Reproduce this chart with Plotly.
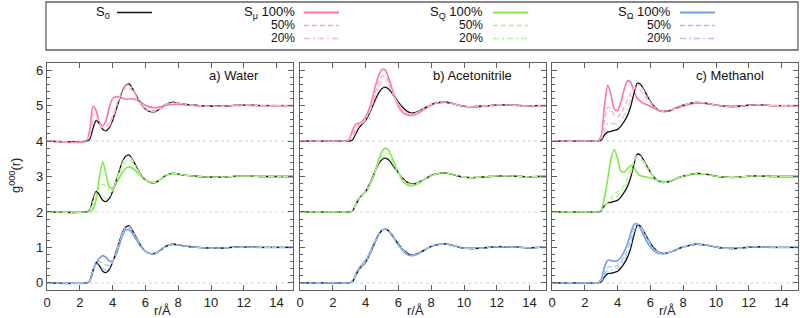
import plotly.graph_objects as go

# ---------------- data ----------------
r = [0, 2.4, 2.6, 2.8, 3.0, 3.2, 3.4, 3.6, 3.8, 4.0, 4.2, 4.4, 4.6, 4.8, 5.0,
     5.2, 5.4, 5.6, 5.8, 6.0, 6.2, 6.4, 6.6, 6.8, 7.0, 7.2, 7.4, 7.6, 7.8, 8.0,
     8.4, 8.8, 9.2, 9.6, 10.0, 10.5, 11.0, 11.5, 12.0, 12.5, 13.0, 13.5, 14.0, 14.5, 15.0]

# Water
water_S0 = [0, 0, 0.05, 0.35, 0.58, 0.48, 0.33, 0.29, 0.38, 0.58, 0.86, 1.15, 1.42, 1.57, 1.61,
            1.49, 1.32, 1.15, 1.0, 0.9, 0.84, 0.82, 0.83, 0.88, 0.95, 1.02, 1.06, 1.09, 1.09, 1.07,
            1.04, 1.02, 1.0, 0.99, 0.98, 0.98, 0.99, 1.01, 1.01, 1.01, 1.0, 1.0, 1.0, 1.0, 1.0]
water_Om100 = [0, 0, 0.05, 0.33, 0.55, 0.70, 0.77, 0.72, 0.62, 0.62, 0.78, 1.05, 1.33, 1.49, 1.50,
               1.40, 1.25, 1.10, 0.98, 0.89, 0.84, 0.82, 0.84, 0.89, 0.96, 1.02, 1.06, 1.08, 1.08, 1.07,
               1.04, 1.02, 1.0, 0.99, 0.98, 0.98, 0.99, 1.01, 1.01, 1.01, 1.0, 1.0, 1.0, 1.0, 1.0]
water_Om50 = [0, 0, 0.05, 0.34, 0.57, 0.60, 0.55, 0.50, 0.50, 0.60, 0.82, 1.10, 1.38, 1.54, 1.56,
              1.45, 1.29, 1.12, 0.99, 0.89, 0.84, 0.82, 0.83, 0.88, 0.95, 1.02, 1.06, 1.08, 1.08, 1.07,
              1.04, 1.02, 1.0, 0.99, 0.98, 0.98, 0.99, 1.01, 1.01, 1.01, 1.0, 1.0, 1.0, 1.0, 1.0]
water_Om20 = [0, 0, 0.05, 0.35, 0.58, 0.52, 0.40, 0.37, 0.43, 0.59, 0.85, 1.13, 1.40, 1.56, 1.59,
              1.48, 1.31, 1.14, 1.0, 0.9, 0.84, 0.82, 0.83, 0.88, 0.95, 1.02, 1.06, 1.09, 1.09, 1.07,
              1.04, 1.02, 1.0, 0.99, 0.98, 0.98, 0.99, 1.01, 1.01, 1.01, 1.0, 1.0, 1.0, 1.0, 1.0]
water_Q100 = [0, 0, 0, 0.08, 0.35, 1.0, 1.42, 1.05, 0.70, 0.68, 0.78, 0.95, 1.12, 1.23, 1.27,
              1.24, 1.16, 1.07, 0.98, 0.91, 0.86, 0.84, 0.84, 0.88, 0.95, 1.01, 1.05, 1.07, 1.07, 1.06,
              1.04, 1.02, 1.0, 0.99, 0.98, 0.98, 0.99, 1.0, 1.01, 1.01, 1.0, 1.0, 1.0, 1.0, 1.0]
water_Q50 = [0, 0, 0.02, 0.15, 0.45, 0.70, 0.78, 0.72, 0.62, 0.66, 0.82, 1.05, 1.28, 1.42, 1.46,
             1.40, 1.27, 1.12, 0.99, 0.90, 0.85, 0.83, 0.84, 0.88, 0.95, 1.02, 1.06, 1.08, 1.08, 1.07,
             1.04, 1.02, 1.0, 0.99, 0.98, 0.98, 0.99, 1.01, 1.01, 1.01, 1.0, 1.0, 1.0, 1.0, 1.0]
water_Q20 = [0, 0, 0.04, 0.30, 0.55, 0.55, 0.45, 0.38, 0.43, 0.60, 0.86, 1.13, 1.38, 1.53, 1.57,
             1.47, 1.31, 1.14, 1.0, 0.9, 0.84, 0.82, 0.83, 0.88, 0.95, 1.02, 1.06, 1.09, 1.09, 1.07,
             1.04, 1.02, 1.0, 0.99, 0.98, 0.98, 0.99, 1.01, 1.01, 1.01, 1.0, 1.0, 1.0, 1.0, 1.0]
water_mu100 = [0, 0, 0.3, 0.98, 0.85, 0.52, 0.43, 0.58, 0.95, 1.2, 1.25, 1.24, 1.21, 1.18, 1.19,
               1.19, 1.17, 1.13, 1.07, 1.01, 0.97, 0.95, 0.94, 0.95, 0.97, 1.0, 1.02, 1.03, 1.03, 1.03,
               1.02, 1.01, 1.0, 0.99, 0.99, 0.99, 0.99, 1.0, 1.01, 1.0, 1.0, 1.0, 1.0, 1.0, 1.0]
water_mu50 = [0, 0, 0.2, 0.75, 0.72, 0.5, 0.38, 0.4, 0.52, 0.72, 0.98, 1.22, 1.42, 1.5, 1.5,
              1.42, 1.28, 1.13, 1.01, 0.93, 0.88, 0.86, 0.86, 0.9, 0.96, 1.02, 1.05, 1.07, 1.07, 1.06,
              1.04, 1.02, 1.0, 0.99, 0.98, 0.98, 0.99, 1.01, 1.01, 1.01, 1.0, 1.0, 1.0, 1.0, 1.0]
water_mu20 = [0, 0, 0.12, 0.55, 0.63, 0.48, 0.33, 0.32, 0.42, 0.62, 0.9, 1.18, 1.43, 1.56, 1.58,
              1.48, 1.31, 1.14, 1.0, 0.9, 0.85, 0.83, 0.84, 0.88, 0.95, 1.02, 1.06, 1.08, 1.08, 1.07,
              1.04, 1.02, 1.0, 0.99, 0.98, 0.98, 0.99, 1.01, 1.01, 1.01, 1.0, 1.0, 1.0, 1.0, 1.0]

# Acetonitrile
acn_S0 = [0, 0, 0, 0, 0, 0.03, 0.2, 0.38, 0.48, 0.58, 0.75, 0.95, 1.17, 1.36, 1.48,
          1.52, 1.47, 1.36, 1.23, 1.1, 0.98, 0.89, 0.82, 0.79, 0.8, 0.83, 0.88, 0.93, 0.98, 1.03,
          1.08, 1.1, 1.07, 1.02, 0.98, 0.97, 0.98, 1.0, 1.02, 1.02, 1.01, 1.0, 0.99, 1.0, 1.0]
acn_Om100 = [0, 0, 0, 0, 0, 0.05, 0.25, 0.42, 0.52, 0.63, 0.8, 1.0, 1.2, 1.38, 1.49,
             1.52, 1.46, 1.34, 1.2, 1.06, 0.94, 0.85, 0.79, 0.77, 0.78, 0.82, 0.87, 0.93, 0.98, 1.03,
             1.08, 1.1, 1.07, 1.02, 0.98, 0.97, 0.98, 1.0, 1.02, 1.02, 1.01, 1.0, 0.99, 1.0, 1.0]
acn_Om50 = [0, 0, 0, 0, 0, 0.04, 0.23, 0.40, 0.50, 0.61, 0.78, 0.98, 1.19, 1.37, 1.49,
            1.52, 1.47, 1.35, 1.21, 1.08, 0.96, 0.87, 0.80, 0.78, 0.79, 0.82, 0.87, 0.93, 0.98, 1.03,
            1.08, 1.1, 1.07, 1.02, 0.98, 0.97, 0.98, 1.0, 1.02, 1.02, 1.01, 1.0, 0.99, 1.0, 1.0]
acn_Om20 = [0, 0, 0, 0, 0, 0.03, 0.21, 0.39, 0.49, 0.59, 0.76, 0.96, 1.18, 1.36, 1.48,
            1.52, 1.47, 1.36, 1.22, 1.09, 0.97, 0.88, 0.81, 0.78, 0.79, 0.83, 0.88, 0.93, 0.98, 1.03,
            1.08, 1.1, 1.07, 1.02, 0.98, 0.97, 0.98, 1.0, 1.02, 1.02, 1.01, 1.0, 0.99, 1.0, 1.0]
acn_Q100 = [0, 0, 0, 0, 0, 0.03, 0.2, 0.38, 0.48, 0.56, 0.7, 0.9, 1.18, 1.48, 1.7,
            1.8, 1.74, 1.55, 1.32, 1.1, 0.93, 0.81, 0.75, 0.74, 0.76, 0.8, 0.86, 0.92, 0.97, 1.02,
            1.07, 1.09, 1.07, 1.02, 0.98, 0.96, 0.97, 0.99, 1.01, 1.02, 1.01, 1.0, 0.99, 1.0, 1.0]
acn_Q50 = [0, 0, 0, 0, 0, 0.03, 0.2, 0.38, 0.48, 0.57, 0.72, 0.92, 1.17, 1.42, 1.6,
           1.67, 1.61, 1.46, 1.28, 1.1, 0.95, 0.85, 0.78, 0.76, 0.78, 0.82, 0.87, 0.93, 0.98, 1.02,
           1.08, 1.1, 1.07, 1.02, 0.98, 0.97, 0.98, 1.0, 1.02, 1.02, 1.01, 1.0, 0.99, 1.0, 1.0]
acn_Q20 = [0, 0, 0, 0, 0, 0.03, 0.2, 0.38, 0.48, 0.58, 0.74, 0.94, 1.17, 1.39, 1.53,
           1.58, 1.53, 1.41, 1.26, 1.1, 0.97, 0.87, 0.8, 0.78, 0.79, 0.83, 0.88, 0.93, 0.98, 1.03,
           1.08, 1.1, 1.07, 1.02, 0.98, 0.97, 0.98, 1.0, 1.02, 1.02, 1.01, 1.0, 0.99, 1.0, 1.0]
acn_mu100 = [0, 0, 0, 0, 0.05, 0.3, 0.47, 0.5, 0.55, 0.68, 0.88, 1.18, 1.55, 1.85, 2.02,
             2.0, 1.78, 1.5, 1.2, 0.98, 0.84, 0.76, 0.73, 0.72, 0.74, 0.78, 0.84, 0.9, 0.96, 1.01,
             1.07, 1.09, 1.07, 1.02, 0.98, 0.96, 0.97, 0.99, 1.01, 1.02, 1.01, 1.0, 0.99, 1.0, 1.0]
acn_mu50 = [0, 0, 0, 0, 0.03, 0.18, 0.36, 0.45, 0.52, 0.63, 0.82, 1.07, 1.38, 1.66, 1.83,
            1.84, 1.66, 1.43, 1.2, 1.02, 0.89, 0.8, 0.76, 0.75, 0.77, 0.81, 0.86, 0.92, 0.97, 1.02,
            1.08, 1.1, 1.07, 1.02, 0.98, 0.97, 0.98, 1.0, 1.02, 1.02, 1.01, 1.0, 0.99, 1.0, 1.0]
acn_mu20 = [0, 0, 0, 0, 0.01, 0.1, 0.28, 0.42, 0.5, 0.6, 0.78, 1.0, 1.27, 1.52, 1.67,
            1.7, 1.58, 1.4, 1.21, 1.05, 0.93, 0.84, 0.79, 0.77, 0.78, 0.82, 0.87, 0.93, 0.98, 1.03,
            1.08, 1.1, 1.07, 1.02, 0.98, 0.97, 0.98, 1.0, 1.02, 1.02, 1.01, 1.0, 0.99, 1.0, 1.0]

# Methanol
meoh_S0 = [0, 0, 0, 0, 0.03, 0.17, 0.26, 0.27, 0.3, 0.33, 0.42, 0.55, 0.72, 0.98, 1.35,
           1.63, 1.6, 1.45, 1.28, 1.12, 0.99, 0.9, 0.85, 0.83, 0.84, 0.86, 0.9, 0.94, 0.98, 1.01,
           1.06, 1.09, 1.08, 1.05, 1.01, 0.98, 0.97, 0.98, 1.01, 1.02, 1.01, 1.0, 1.0, 1.0, 1.0]
meoh_Om100 = [0, 0, 0, 0, 0.1, 0.45, 0.64, 0.63, 0.61, 0.63, 0.72, 0.88, 1.1, 1.4, 1.65,
              1.67, 1.52, 1.33, 1.15, 1.01, 0.91, 0.85, 0.82, 0.82, 0.84, 0.87, 0.9, 0.94, 0.98, 1.01,
              1.06, 1.09, 1.08, 1.05, 1.01, 0.98, 0.97, 0.98, 1.01, 1.02, 1.01, 1.0, 1.0, 1.0, 1.0]
meoh_Om50 = [0, 0, 0, 0, 0.07, 0.32, 0.45, 0.45, 0.45, 0.5, 0.6, 0.74, 0.94, 1.22, 1.55,
             1.68, 1.58, 1.4, 1.22, 1.07, 0.95, 0.87, 0.83, 0.82, 0.84, 0.87, 0.9, 0.94, 0.98, 1.01,
             1.06, 1.09, 1.08, 1.05, 1.01, 0.98, 0.97, 0.98, 1.01, 1.02, 1.01, 1.0, 1.0, 1.0, 1.0]
meoh_Om20 = [0, 0, 0, 0, 0.05, 0.24, 0.35, 0.36, 0.38, 0.42, 0.52, 0.65, 0.83, 1.1, 1.45,
             1.66, 1.6, 1.43, 1.26, 1.1, 0.97, 0.89, 0.84, 0.83, 0.84, 0.86, 0.9, 0.94, 0.98, 1.01,
             1.06, 1.09, 1.08, 1.05, 1.01, 0.98, 0.97, 0.98, 1.01, 1.02, 1.01, 1.0, 1.0, 1.0, 1.0]
meoh_Q100 = [0, 0, 0, 0, 0.05, 0.4, 0.95, 1.5, 1.76, 1.5, 1.15, 1.13, 1.22, 1.31, 1.24,
             1.1, 1.02, 1.0, 0.98, 0.96, 0.93, 0.9, 0.87, 0.86, 0.86, 0.88, 0.91, 0.94, 0.97, 1.0,
             1.04, 1.07, 1.07, 1.04, 1.01, 0.98, 0.98, 0.99, 1.01, 1.02, 1.01, 1.0, 1.0, 1.0, 1.0]
meoh_Q50 = [0, 0, 0, 0, 0.04, 0.15, 0.3, 0.4, 0.5, 0.58, 0.65, 0.75, 0.95, 1.2, 1.45,
            1.55, 1.5, 1.38, 1.23, 1.09, 0.97, 0.9, 0.86, 0.84, 0.85, 0.87, 0.9, 0.94, 0.98, 1.01,
            1.06, 1.09, 1.08, 1.05, 1.01, 0.98, 0.97, 0.98, 1.01, 1.02, 1.01, 1.0, 1.0, 1.0, 1.0]
meoh_Q20 = [0, 0, 0, 0, 0.03, 0.17, 0.28, 0.33, 0.38, 0.45, 0.55, 0.66, 0.82, 1.08, 1.4,
            1.6, 1.57, 1.43, 1.27, 1.11, 0.98, 0.9, 0.85, 0.83, 0.84, 0.86, 0.9, 0.94, 0.98, 1.01,
            1.06, 1.09, 1.08, 1.05, 1.01, 0.98, 0.97, 0.98, 1.01, 1.02, 1.01, 1.0, 1.0, 1.0, 1.0]
meoh_mu100 = [0, 0, 0, 0, 0.15, 1.0, 1.57, 1.3, 0.9, 0.86, 1.1, 1.45, 1.7, 1.65, 1.4,
              1.2, 1.12, 1.06, 1.02, 0.98, 0.93, 0.88, 0.85, 0.84, 0.85, 0.87, 0.9, 0.93, 0.96, 0.99,
              1.04, 1.07, 1.07, 1.04, 1.01, 0.98, 0.98, 0.99, 1.01, 1.02, 1.01, 1.0, 1.0, 1.0, 1.0]
meoh_mu50 = [0, 0, 0, 0, 0.08, 0.55, 0.95, 0.9, 0.72, 0.68, 0.78, 0.95, 1.15, 1.35, 1.48,
             1.5, 1.42, 1.3, 1.17, 1.06, 0.96, 0.89, 0.85, 0.84, 0.85, 0.87, 0.9, 0.94, 0.98, 1.01,
             1.06, 1.09, 1.08, 1.05, 1.01, 0.98, 0.97, 0.98, 1.01, 1.02, 1.01, 1.0, 1.0, 1.0, 1.0]
meoh_mu20 = [0, 0, 0, 0, 0.05, 0.3, 0.5, 0.5, 0.48, 0.5, 0.58, 0.72, 0.92, 1.18, 1.45,
             1.58, 1.55, 1.42, 1.26, 1.1, 0.98, 0.9, 0.85, 0.83, 0.84, 0.86, 0.9, 0.94, 0.98, 1.01,
             1.06, 1.09, 1.08, 1.05, 1.01, 0.98, 0.97, 0.98, 1.01, 1.02, 1.01, 1.0, 1.0, 1.0, 1.0]

panel_titles = ["a) Water", "b) Acetonitrile", "c) Methanol"]
x_ticks = [0, 2, 4, 6, 8, 10, 12, 14]
y_ticks = [0, 1, 2, 3, 4, 5, 6]
baselines = [0, 2, 4]
levels = ["100%", "50%", "20%"]

panels = [
    dict(S0=water_S0, Om=[water_Om100, water_Om50, water_Om20],
         Q=[water_Q100, water_Q50, water_Q20], mu=[water_mu100, water_mu50, water_mu20]),
    dict(S0=acn_S0, Om=[acn_Om100, acn_Om50, acn_Om20],
         Q=[acn_Q100, acn_Q50, acn_Q20], mu=[acn_mu100, acn_mu50, acn_mu20]),
    dict(S0=meoh_S0, Om=[meoh_Om100, meoh_Om50, meoh_Om20],
         Q=[meoh_Q100, meoh_Q50, meoh_Q20], mu=[meoh_mu100, meoh_mu50, meoh_mu20]),
]

# ---------------- style ----------------
W, H = 800, 318
ML, MR, MT, MB = 47, 2, 63, 28
PW, PH = W - ML - MR, H - MT - MB
FONT = "Liberation Sans, Arial, Helvetica, sans-serif"
FRAME = "#606060"

def px(x):
    return (x - ML) / PW

def py(y):
    return (H - MB - y) / PH

series = [  # key, offset, colours for 100/50/20
    ("Om", 0, ["#6c9ff0", "#9dc0f5", "#a9c8f6"]),
    ("Q", 2, ["#7ced45", "#aef38a", "#b9f59a"]),
    ("mu", 4, ["#ff73ab", "#ffa6c8", "#ffb3d0"]),
]
dashes = ["solid", "5px,3px", "6px,3px,2px,3px"]
widths = [1.6, 1.2, 1.2]

domains = [[px(47), px(293)], [px(300), px(546)], [px(552), px(798)]]

fig = go.Figure()
for i, p in enumerate(panels):
    xa = "x" if i == 0 else f"x{i+1}"
    ya = "y" if i == 0 else f"y{i+1}"
    for key, off, cols in series:
        fig.add_trace(go.Scatter(x=r, y=[v + off for v in p[key][0]], xaxis=xa, yaxis=ya,
                                 mode="lines", line=dict(color=cols[0], width=widths[0], shape="spline", smoothing=0.7),
                                 showlegend=False, hoverinfo="skip"))
    for key, off, cols in series:
        fig.add_trace(go.Scatter(x=r, y=[v + off for v in p["S0"]], xaxis=xa, yaxis=ya,
                                 mode="lines", line=dict(color="#111111", width=1.3, shape="spline", smoothing=0.7),
                                 showlegend=False, hoverinfo="skip"))
    for key, off, cols in series:
        for k in (1, 2):
            fig.add_trace(go.Scatter(x=r, y=[v + off for v in p[key][k]], xaxis=xa, yaxis=ya,
                                     mode="lines", line=dict(color=cols[k], width=widths[k], dash=dashes[k],
                                                             shape="spline", smoothing=0.7),
                                     showlegend=False, hoverinfo="skip"))

axis_common = dict(showline=True, linecolor=FRAME, linewidth=1.3, mirror="ticks", ticks="inside",
                   tickcolor=FRAME, showgrid=False, zeroline=False,
                   tickfont=dict(family=FONT, size=13, color="#222222"))
layout = dict(width=W, height=H, margin=dict(l=ML, r=MR, t=MT, b=MB),
              paper_bgcolor="white", plot_bgcolor="white", showlegend=False,
              font=dict(family=FONT, size=13, color="#222222"))
for i in range(3):
    sx = "" if i == 0 else str(i + 1)
    layout["xaxis" + sx] = dict(axis_common, domain=domains[i], range=[0, 15], tickvals=x_ticks,
                                ticklen=5, anchor="y" + sx)
    layout["yaxis" + sx] = dict(axis_common, domain=[0, 1], range=[-0.2, 6.2], tickvals=y_ticks,
                                ticklen=5, anchor="x" + sx, showticklabels=(i == 0),
                                minor=dict(ticks="inside", dtick=0.2, ticklen=2.5, tickcolor=FRAME))
fig.update_layout(**layout)

shapes = []
annotations = []
for i in range(3):
    sx = "" if i == 0 else str(i + 1)
    for b in baselines:
        shapes.append(dict(type="line", xref=f"x{sx} domain", yref="y" + sx, x0=0, x1=1, y0=b, y1=b,
                           line=dict(color="#c9d3e3", width=1, dash="dot"), layer="below"))
    annotations.append(dict(xref="x" + sx, yref="y" + sx, x=13.05, y=5.86, text=panel_titles[i],
                            xanchor="right", yanchor="middle", showarrow=False,
                            font=dict(family=FONT, size=13, color="#111111")))
    annotations.append(dict(xref=f"x{sx} domain", yref="paper", x=0.47, y=py(310), text="r/Å",
                            xanchor="center", yanchor="middle", showarrow=False,
                            font=dict(family=FONT, size=13, color="#222222")))

annotations.append(dict(xref="paper", yref="paper", x=px(15), y=py(176), text="g<sup>000</sup>(r)",
                        textangle=-90, xanchor="center", yanchor="middle", showarrow=False,
                        font=dict(family=FONT, size=13, color="#222222")))

# legend box
LEG_FS = 12
shapes.append(dict(type="rect", xref="paper", yref="paper", x0=px(46), x1=px(798), y0=py(50), y1=py(2),
                   line=dict(color=FRAME, width=1.3), fillcolor="rgba(0,0,0,0)"))
rows_y = [12.5, 25.5, 38.5]
annotations.append(dict(xref="paper", yref="paper", x=px(111), y=py(rows_y[0]), text="S<sub>0</sub>",
                        xanchor="right", yanchor="middle", showarrow=False, borderpad=0,
                        font=dict(family=FONT, size=LEG_FS + 1, color="#111111")))
shapes.append(dict(type="line", xref="paper", yref="paper", x0=px(117), x1=px(152),
                   y0=py(rows_y[0]), y1=py(rows_y[0]), line=dict(color="#111111", width=1.5)))
leg_groups = [("mu", "S<sub>μ</sub>", 296, 304), ("Q", "S<sub>Q</sub>", 484, 493), ("Om", "S<sub>Ω</sub>", 672, 680)]
col_map = {k: c for k, _, c in series}
for key, lab, tx, lx in leg_groups:
    for k in range(3):
        txt = (lab + " " + levels[k]) if k == 0 else levels[k]
        annotations.append(dict(xref="paper", yref="paper", x=px(tx), y=py(rows_y[k]), text=txt,
                                xanchor="right", yanchor="middle", showarrow=False, borderpad=0,
                                font=dict(family=FONT, size=LEG_FS + (1 if k == 0 else 0), color="#111111")))
        shapes.append(dict(type="line", xref="paper", yref="paper", x0=px(lx), x1=px(lx + 35),
                           y0=py(rows_y[k]), y1=py(rows_y[k]),
                           line=dict(color=col_map[key][k], width=widths[k] + 0.3, dash=dashes[k])))

fig.update_layout(shapes=shapes, annotations=annotations)
fig.write_html("out.html", include_plotlyjs=True, config={"displayModeBar": False},
               post_script="document.body.style.margin='0';document.body.style.padding='0';")
